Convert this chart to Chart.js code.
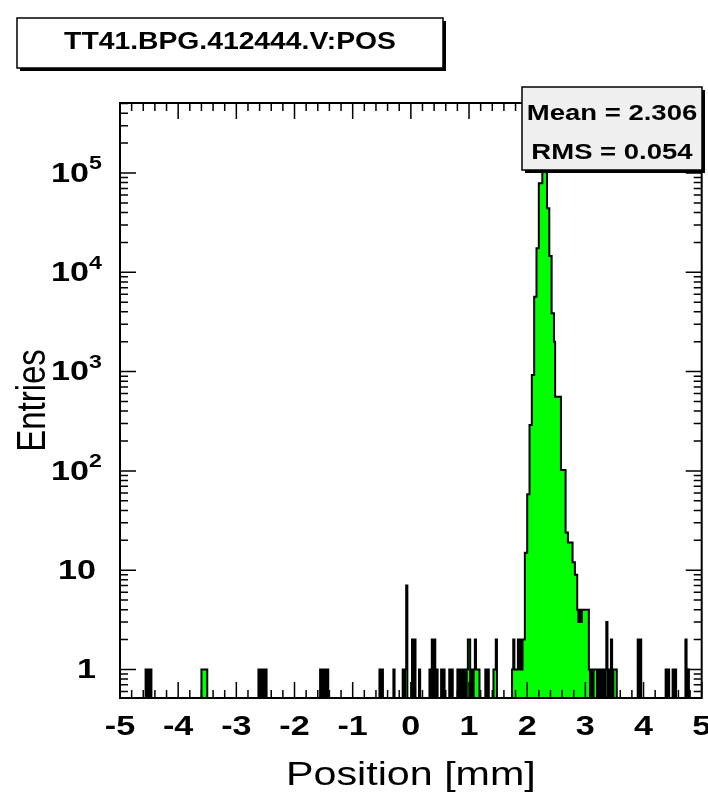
<!DOCTYPE html>
<html>
<head>
<meta charset="utf-8">
<script src="https://cdn.jsdelivr.net/npm/chart.js@4/dist/chart.umd.min.js"></script>
<style>
html,body{margin:0;padding:0;background:#fff;}
#wrap{width:708px;height:794px;position:relative;overflow:hidden;}
canvas{display:block;}
</style>
</head>
<body>
<div id="wrap"><canvas id="c" width="708" height="794"></canvas></div>
<script>
// ---------------- data ----------------
const histTitle = 'TT41.BPG.412444.V:POS';
const xTitle = 'Position [mm]';
const yTitle = 'Entries';
const statLines = ['Mean = 2.306', 'RMS = 0.054'];
const xTickValues = [-5, -4, -3, -2, -1, 0, 1, 2, 3, 4, 5];
const yTickExponents = [0, 1, 2, 3, 4, 5];
const xRange = [-5, 5];
const yRange = [0.516, 5.07e5];
const binWidth = 0.02;

// non-empty bins: low edge [mm] and number of entries
const binLow = [
  -4.56, -4.52, -4.48,
  -3.60, -3.58, -3.56, -3.54, -3.52,
  -2.62, -2.58, -2.54, -2.50,
  -1.56, -1.52, -1.48, -1.44,
  -0.54, -0.50, -0.30, -0.14, -0.10, -0.08,
  0.02, 0.06, 0.14, 0.32, 0.36, 0.40, 0.44, 0.52, 0.56, 0.66, 0.70,
  0.80, 0.84, 0.88, 0.92, 0.96, 0.98, 1.00, 1.04, 1.08, 1.10, 1.12, 1.14, 1.16,
  1.28, 1.32, 1.42, 1.44, 1.46,
  1.74, 1.76, 1.78, 1.80, 1.82, 1.84, 1.86, 1.88, 1.90, 1.92, 1.94,
  1.96, 1.98, 2.00, 2.02, 2.04, 2.06, 2.08, 2.10, 2.12, 2.14, 2.16, 2.18,
  2.20, 2.22, 2.24, 2.26, 2.28, 2.30, 2.32, 2.34, 2.36, 2.38, 2.40,
  2.42, 2.44, 2.46, 2.48, 2.50, 2.52, 2.54, 2.56, 2.58, 2.60, 2.62, 2.64,
  2.66, 2.68, 2.70, 2.72, 2.74, 2.76, 2.78, 2.80, 2.82, 2.84,
  2.86, 2.88, 2.90, 2.92, 2.94, 2.96, 2.98, 3.00, 3.02, 3.04,
  3.06, 3.10, 3.14, 3.16, 3.18, 3.22,
  3.26, 3.30, 3.34, 3.36, 3.40, 3.44, 3.48, 3.50, 3.52,
  3.90, 3.94, 4.38, 4.42, 4.50, 4.54, 4.72, 4.76
];
const binCount = [
  1, 1, 1,
  1, 1, 1, 1, 1,
  1, 1, 1, 1,
  1, 1, 1, 1,
  1, 1, 1, 1, 1, 7,
  2, 2, 1, 1, 2, 2, 1, 1, 1, 1, 1,
  1, 1, 1, 1, 1, 2, 2, 1, 1, 2, 1, 1, 1,
  1, 1, 1, 1, 2,
  1, 2, 1, 1, 1, 2, 1, 2, 1, 2, 2,
  15, 15, 58, 58, 290, 290, 925, 925, 5680, 5680, 17460, 17460,
  78700, 78700, 78700, 160000, 260000, 240000, 150000, 44150, 44150, 14600, 14600,
  3865, 3865, 2000, 559, 559, 559, 559, 559, 102, 102, 102, 102,
  24, 24, 19, 19, 19, 19, 12, 12, 9, 9,
  4, 3, 4, 3, 4, 4, 4, 4, 4, 4,
  1, 1, 1, 1, 1, 1,
  1, 1, 1, 3, 1, 2, 1, 1, 1,
  2, 2, 1, 1, 1, 1, 2, 1
];

// ---------------- build histogram table ----------------
const nBins = Math.round((xRange[1] - xRange[0]) / binWidth);
const counts = new Array(nBins).fill(0);
binLow.forEach((e, i) => {
  const k = Math.round((e - xRange[0]) / binWidth);
  counts[k] = binCount[i];
});
const points = counts.map((c, k) => ({ x: xRange[0] + k * binWidth, y: c > 0 ? c : yRange[0] }));
points.push({ x: xRange[1], y: yRange[0] });

// ---------------- helpers ----------------
const FONT = '"Liberation Sans", Arial, Helvetica, sans-serif';
const SX = 1.22; // horizontal stretch of the reference text
function stext(ctx, txt, x, y, size, weight, align, sx) {
  ctx.save();
  ctx.font = weight + ' ' + size + 'px ' + FONT;
  ctx.textBaseline = 'middle';
  ctx.textAlign = align;
  ctx.translate(x, y);
  ctx.scale(sx, 1);
  ctx.fillText(txt, 0, 0);
  ctx.restore();
}
function twidth(ctx, txt, size, weight, sx) {
  ctx.save();
  ctx.font = weight + ' ' + size + 'px ' + FONT;
  const w = ctx.measureText(txt).width * sx;
  ctx.restore();
  return w;
}
function paveBox(ctx, x, y, w, h, fill) {
  ctx.save();
  ctx.fillStyle = '#000';
  ctx.fillRect(x + 3, y + 3, w, h);
  ctx.fillStyle = fill;
  ctx.fillRect(x, y, w, h);
  ctx.strokeStyle = '#000';
  ctx.lineWidth = 1.5;
  ctx.strokeRect(x, y, w, h);
  ctx.restore();
}

const rootPlugin = {
  id: 'rootStyle',
  afterDraw(chart) {
    const ctx = chart.ctx;
    const a = chart.chartArea;
    const xs = chart.scales.x;
    const ys = chart.scales.y;
    ctx.save();
    ctx.strokeStyle = '#000';
    ctx.fillStyle = '#000';
    // ticks on x (bottom and top)
    ctx.lineWidth = 1.5;
    ctx.beginPath();
    for (let i = -25; i <= 25; i++) {
      const px = xs.getPixelForValue(i / 5);
      const len = (i % 5 === 0) ? 16 : 8;
      ctx.moveTo(px, a.bottom); ctx.lineTo(px, a.bottom - len);
      ctx.moveTo(px, a.top); ctx.lineTo(px, a.top + len);
    }
    // ticks on y (left and right), logarithmic
    for (let d = -1; d <= 5; d++) {
      for (let m = 1; m <= 9; m++) {
        const v = m * Math.pow(10, d);
        if (v < yRange[0] || v > yRange[1]) continue;
        const py = ys.getPixelForValue(v);
        const len = (m === 1) ? 16 : 8;
        ctx.moveTo(a.left, py); ctx.lineTo(a.left + len, py);
        ctx.moveTo(a.right, py); ctx.lineTo(a.right - len, py);
      }
    }
    ctx.stroke();
    // frame
    ctx.lineWidth = 2;
    ctx.strokeRect(a.left, a.top, a.right - a.left, a.bottom - a.top);

    // x tick labels
    xTickValues.forEach(v => {
      stext(ctx, String(v), xs.getPixelForValue(v), 727, 28, 'bold', 'center', SX);
    });
    // y tick labels
    yTickExponents.forEach(e => {
      const py = ys.getPixelForValue(Math.pow(10, e));
      if (e <= 1) {
        stext(ctx, e === 0 ? '1' : '10', 96, py + 1, 28, 'bold', 'right', SX);
      } else {
        const ws = twidth(ctx, String(e), 19, 'bold', SX);
        stext(ctx, String(e), 102, py - 9, 19, 'bold', 'right', SX);
        stext(ctx, '10', 102 - ws, py + 1, 28, 'bold', 'right', SX);
      }
    });
    // axis titles
    stext(ctx, xTitle, (a.left + a.right) / 2, 776, 33, 'normal', 'center', 1.25);
    ctx.save();
    ctx.translate(34, (a.top + a.bottom) / 2);
    ctx.scale(1.25, 1);
    ctx.rotate(-Math.PI / 2);
    ctx.font = 'normal 33px ' + FONT;
    ctx.textAlign = 'center';
    ctx.textBaseline = 'middle';
    ctx.fillText(yTitle, 0, 0);
    ctx.restore();

    // title pave
    paveBox(ctx, 17, 18, 426, 50, '#ffffff');
    ctx.fillStyle = '#000';
    stext(ctx, histTitle, 230, 43, 23, 'bold', 'center', 1.23);

    // stats pave
    paveBox(ctx, 522, 87, 180, 83, '#f0f0f0');
    ctx.fillStyle = '#000';
    stext(ctx, statLines[0], 612, 114, 22, 'bold', 'center', 1.25);
    stext(ctx, statLines[1], 612, 153, 22, 'bold', 'center', 1.25);
    ctx.restore();
  }
};

new Chart(document.getElementById('c'), {
  type: 'line',
  data: {
    datasets: [{
      data: points,
      stepped: true,
      fill: 'start',
      backgroundColor: '#00ff00',
      borderColor: '#000000',
      borderWidth: 2,
      borderJoinStyle: 'miter',
      pointRadius: 0,
      tension: 0
    }]
  },
  options: {
    responsive: false,
    animation: false,
    devicePixelRatio: 1,
    events: [],
    layout: { padding: { left: 120, top: 103, right: 6.3, bottom: 96 } },
    plugins: { legend: { display: false }, tooltip: { enabled: false }, title: { display: false } },
    scales: {
      x: { type: 'linear', min: xRange[0], max: xRange[1], display: false },
      y: { type: 'logarithmic', min: yRange[0], max: yRange[1], display: false }
    }
  },
  plugins: [rootPlugin]
});
</script>
</body>
</html>
